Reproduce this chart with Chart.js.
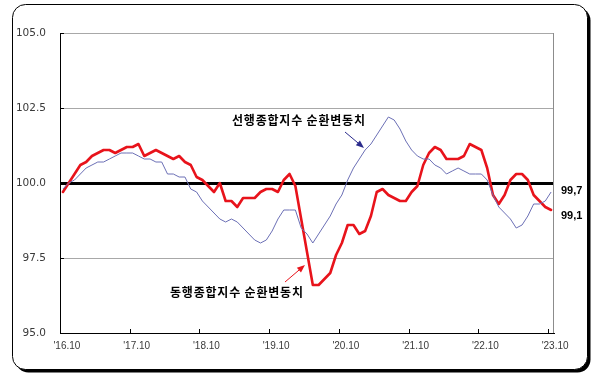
<!DOCTYPE html>
<html>
<head>
<meta charset="utf-8">
<script src="https://cdn.jsdelivr.net/npm/chart.js@4/dist/chart.umd.min.js"></script>
<style>
  html, body { margin: 0; padding: 0; background: #ffffff; }
  #wrap { width: 597px; height: 380px; position: relative; }
</style>
</head>
<body>
<div id="wrap"><canvas id="c" width="597" height="380"></canvas></div>
<script>
// ---- data (monthly, 2016.10 .. 2023.10) ----
const categories = (function () {
  const out = [];
  let y = 2016, m = 10;
  while (y < 2023 || (y === 2023 && m <= 10)) {
    out.push(y + '.' + (m < 10 ? '0' + m : m));
    m++; if (m > 12) { m = 1; y++; }
  }
  return out;
})();

const tickLabels = ["'16.10", "'17.10", "'18.10", "'19.10", "'20.10", "'21.10", "'22.10", "'23.10"];

// 선행종합지수 순환변동치 (leading index, cyclical component)
const leading = [
  99.8, 100.0, 100.1, 100.3, 100.5, 100.6, 100.7, 100.7, 100.8, 100.9,
  101.0, 101.0, 101.0, 100.9, 100.8, 100.8, 100.7, 100.7, 100.3, 100.3,
  100.2, 100.2, 99.8, 99.7, 99.4, 99.2, 99.0, 98.8, 98.7, 98.8,
  98.7, 98.5, 98.3, 98.1, 98.0, 98.1, 98.4, 98.8, 99.1, 99.1,
  99.1, 98.5, 98.3, 98.0, 98.3, 98.6, 98.9, 99.3, 99.6, 100.1,
  100.5, 100.8, 101.1, 101.3, 101.6, 101.9, 102.2, 102.1, 101.8, 101.4,
  101.1, 100.9, 100.8, 100.8, 100.6, 100.5, 100.3, 100.4, 100.5, 100.4,
  100.3, 100.3, 100.3, 100.1, 99.6, 99.2, 99.0, 98.8, 98.5, 98.6,
  98.9, 99.3, 99.3, 99.4, 99.7
];

// 동행종합지수 순환변동치 (coincident index, cyclical component)
const coincident = [
  99.7, 100.0, 100.3, 100.6, 100.7, 100.9, 101.0, 101.1, 101.1, 101.0,
  101.1, 101.2, 101.2, 101.3, 100.9, 101.0, 101.1, 101.0, 100.9, 100.8,
  100.9, 100.7, 100.6, 100.2, 100.1, 99.9, 99.7, 100.0, 99.4, 99.4,
  99.2, 99.5, 99.5, 99.5, 99.7, 99.8, 99.8, 99.7, 100.1, 100.3,
  99.9, 98.8, 97.7, 96.6, 96.6, 96.8, 97.0, 97.6, 98.0, 98.6,
  98.6, 98.3, 98.4, 98.9, 99.7, 99.8, 99.6, 99.5, 99.4, 99.4,
  99.7, 99.9, 100.6, 101.0, 101.2, 101.1, 100.8, 100.8, 100.8, 100.9,
  101.3, 101.2, 101.1, 100.5, 99.6, 99.3, 99.6, 100.1, 100.3, 100.3,
  100.1, 99.6, 99.4, 99.2, 99.1
];

const yTicks = [95, 97.5, 100, 102.5, 105];
const leadingName = '선행종합지수 순환변동치';
const coincidentName = '동행종합지수 순환변동치';
const endLabels = ['99,7', '99,1'];

// ---- decorations ----
function roundRect(ctx, x, y, w, h, r) {
  ctx.beginPath();
  ctx.moveTo(x + r, y);
  ctx.lineTo(x + w - r, y);
  ctx.arcTo(x + w, y, x + w, y + r, r);
  ctx.lineTo(x + w, y + h - r);
  ctx.arcTo(x + w, y + h, x + w - r, y + h, r);
  ctx.lineTo(x + r, y + h);
  ctx.arcTo(x, y + h, x, y + h - r, r);
  ctx.lineTo(x, y + r);
  ctx.arcTo(x, y, x + r, y, r);
  ctx.closePath();
}

function arrow(ctx, x1, y1, x2, y2, color) {
  const a = Math.atan2(y2 - y1, x2 - x1);
  const len = 8, hw = 3.2;
  ctx.save();
  ctx.strokeStyle = color; ctx.fillStyle = color; ctx.lineWidth = 1;
  ctx.beginPath();
  ctx.moveTo(x1, y1);
  ctx.lineTo(x2 - Math.cos(a) * len * 0.8, y2 - Math.sin(a) * len * 0.8);
  ctx.stroke();
  ctx.beginPath();
  ctx.moveTo(x2, y2);
  ctx.lineTo(x2 - Math.cos(a) * len - Math.sin(a) * hw, y2 - Math.sin(a) * len + Math.cos(a) * hw);
  ctx.lineTo(x2 - Math.cos(a) * len + Math.sin(a) * hw, y2 - Math.sin(a) * len - Math.cos(a) * hw);
  ctx.closePath();
  ctx.fill();
  ctx.restore();
}

const framePlugin = {
  id: 'frame',
  beforeDraw(chart) {
    const ctx = chart.ctx;
    ctx.save();
    ctx.fillStyle = '#ffffff';
    ctx.fillRect(0, 0, chart.width, chart.height);
    // shadow (thick right/bottom edge)
    roundRect(ctx, 15.5, 7.5, 575, 365, 13);
    ctx.fillStyle = '#000000';
    ctx.fill();
    roundRect(ctx, 12.5, 4.5, 575, 365, 13);
    ctx.fillStyle = '#ffffff';
    ctx.fill();
    ctx.lineWidth = 1;
    ctx.strokeStyle = '#000000';
    ctx.stroke();
    ctx.restore();
  },
  afterDraw(chart) {
    const ctx = chart.ctx;
    const ca = chart.chartArea;
    const xs = chart.scales.x, ys = chart.scales.y;
    ctx.save();
    // right border of the plot
    ctx.strokeStyle = '#8c8c8c';
    ctx.lineWidth = 1;
    ctx.beginPath();
    ctx.moveTo(Math.round(ca.right) - 0.5, ca.top);
    ctx.lineTo(Math.round(ca.right) - 0.5, ca.bottom);
    ctx.stroke();
    // inward tick marks on the x axis (category boundaries, every 12 months)
    const half = (xs.getPixelForValue(1) - xs.getPixelForValue(0)) / 2;
    ctx.strokeStyle = '#000000';
    for (let k = 1; k < tickLabels.length; k++) {
      const px = Math.round(xs.getPixelForValue(k * 12) - half) + 0.5;
      ctx.beginPath();
      ctx.moveTo(px, ca.bottom);
      ctx.lineTo(px, ca.bottom - 4);
      ctx.stroke();
    }
    // inward tick marks on the y axis
    yTicks.forEach(v => {
      const py = Math.round(ys.getPixelForValue(v)) + 0.5;
      ctx.beginPath();
      ctx.moveTo(ca.left, py);
      ctx.lineTo(ca.left + 4, py);
      ctx.stroke();
    });
    // series annotations
    ctx.fillStyle = '#000000';
    ctx.font = 'bold 12px "Noto Sans CJK KR"';
    ctx.textAlign = 'left';
    ctx.textBaseline = 'middle';
    if ('letterSpacing' in ctx) ctx.letterSpacing = '0.8px';
    ctx.fillText(leadingName, 232, 120);
    ctx.fillText(coincidentName, 170, 292);
    if ('letterSpacing' in ctx) ctx.letterSpacing = '0px';
    arrow(ctx, 345, 132, 364, 148, '#2b2b8c');
    arrow(ctx, 285, 282, 305, 265, '#e8131b');
    // end-value labels
    ctx.font = 'bold 11px "Liberation Sans"';
    ctx.fillText(endLabels[0], 561, 191);
    ctx.fillText(endLabels[1], 561, 216);
    ctx.restore();
  }
};

new Chart(document.getElementById('c'), {
  type: 'line',
  data: {
    labels: categories,
    datasets: [
      {
        label: leadingName,
        data: leading,
        borderColor: '#6c70b6',
        borderWidth: 1,
        pointRadius: 0,
        tension: 0,
        fill: false
      },
      {
        label: coincidentName,
        data: coincident,
        borderColor: '#e8131b',
        borderWidth: 2.6,
        borderJoinStyle: 'round',
        borderCapStyle: 'round',
        pointRadius: 0,
        tension: 0,
        fill: false
      }
    ]
  },
  options: {
    responsive: false,
    animation: false,
    events: [],
    layout: { padding: { left: 0, top: 33, right: 43, bottom: 0 } },
    plugins: { legend: { display: false }, title: { display: false }, tooltip: { enabled: false } },
    scales: {
      x: {
        type: 'category',
        offset: true,
        afterFit: s => { s.height = 47; },
        grid: { display: false, drawTicks: false },
        border: { display: true, color: '#000000', width: 1 },
        ticks: {
          autoSkip: false,
          maxRotation: 0,
          minRotation: 0,
          padding: 7,
          labelOffset: 4,
          color: '#3a3a3a',
          font: { family: 'Liberation Sans', size: 10 },
          callback: (v, i) => (i % 12 === 0 ? tickLabels[i / 12] : '')
        }
      },
      y: {
        min: 95,
        max: 105,
        afterFit: s => { s.width = 60; },
        afterBuildTicks: s => { s.ticks = yTicks.map(v => ({ value: v })); },
        grid: {
          drawTicks: false,
          color: c => (c.tick && (c.tick.value === 100 || c.tick.value === 95) ? '#000000' : '#a8a8a8'),
          lineWidth: c => (c.tick && c.tick.value === 100 ? 3 : 1)
        },
        border: { display: true, color: '#000000', width: 1 },
        ticks: {
          padding: 14,
          color: '#3a3a3a',
          font: { family: 'DejaVu Sans', size: 10.5 },
          callback: v => Number(v).toFixed(1)
        }
      }
    }
  },
  plugins: [framePlugin]
});
</script>
</body>
</html>
